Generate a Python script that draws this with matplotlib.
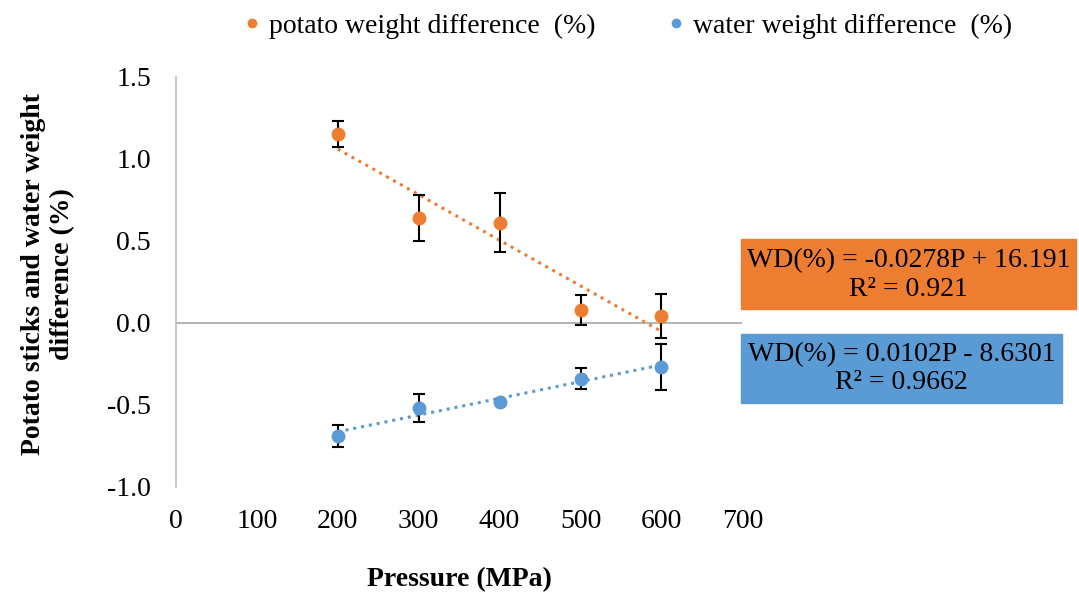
import numpy as np
import matplotlib.pyplot as plt
from matplotlib.patches import Rectangle
from matplotlib.lines import Line2D

plt.rcParams['font.family'] = ['Liberation Serif', 'DejaVu Serif']

pressure = [200, 300, 400, 500, 600]

potato_wd = [1.15, 0.64, 0.61, 0.08, 0.04]
potato_err = [0.08, 0.14, 0.18, 0.09, 0.135]

water_wd = [-0.69, -0.52, -0.48, -0.34, -0.27]
water_err = [0.065, 0.085, 0.01, 0.065, 0.14]

potato_label = 'potato weight difference  (%)'
water_label = 'water weight difference  (%)'
potato_eq = 'WD(%) = -0.0278P + 16.191\nR² = 0.921'
water_eq = 'WD(%) = 0.0102P - 8.6301\nR² = 0.9662'

orange = '#ED7D31'
blue = '#5B9BD5'
fs = 20

fig = plt.figure(figsize=(10.79, 5.96), dpi=100)
ax = fig.add_axes([0.163, 0.183, 0.525, 0.688])

x = np.array(pressure)
handles = []
for y, err, c, lab in [(potato_wd, potato_err, orange, potato_label),
                       (water_wd, water_err, blue, water_label)]:
    # linear trendline over the measured range
    k, b = np.polyfit(x, y, 1)
    xs = np.array([x.min(), x.max()])
    ax.plot(xs, k * xs + b, ls=(0, (1, 1.6)), lw=2.2, color=c, zorder=2)
    ax.errorbar(x, y, yerr=err, fmt='o', ms=9, color=c, ecolor='black',
                elinewidth=1.5, capsize=4, capthick=1.5, zorder=3)
    handles.append(Line2D([], [], marker='o', ls='none', ms=6, color=c, label=lab))

ax.axhline(0, color='#A6A6A6', lw=1.2, zorder=1)
ax.set_xlim(0, 700)
ax.set_ylim(-1.0, 1.5)
ax.set_xticks(range(0, 701, 100))
ax.set_yticks(np.arange(-1.0, 1.51, 0.5))
ax.yaxis.set_major_formatter(plt.FormatStrFormatter('%.1f'))
for s in ['top', 'right', 'bottom']:
    ax.spines[s].set_visible(False)
ax.spines['left'].set_color('#BFBFBF')
ax.spines['left'].set_linewidth(1.2)
ax.tick_params(length=0, labelsize=fs)
ax.tick_params(axis='y', pad=18)
ax.tick_params(axis='x', pad=16)

ax.set_xlabel('Pressure (MPa)', fontsize=fs, fontweight='bold', labelpad=24)
ax.set_ylabel('Potato sticks and water weight\ndifference (%)', fontsize=fs,
              fontweight='bold', linespacing=1.2)
ax.yaxis.set_label_coords(-0.178, 0.52)

fig.legend(handles=handles, loc='upper center', bbox_to_anchor=(0.578, 1.02),
           ncol=2, frameon=False, fontsize=fs, handletextpad=0.0,
           columnspacing=2.3, handlelength=1.2)

fig.patches.append(Rectangle((741 / 1079, 1 - 309 / 596), 335 / 1079, 70 / 596,
                             transform=fig.transFigure, color=orange, zorder=0))
fig.patches.append(Rectangle((741 / 1079, 1 - 403 / 596), 321 / 1079, 69 / 596,
                             transform=fig.transFigure, color=blue, zorder=0))
fig.text((741 + 1076) / 2 / 1079, 1 - 275 / 596, potato_eq, ha='center',
         va='center', fontsize=fs, linespacing=1.25)
fig.text((741 + 1062) / 2 / 1079, 1 - 369 / 596, water_eq, ha='center',
         va='center', fontsize=fs, linespacing=1.15)

fig.savefig('out.png', dpi=100)
